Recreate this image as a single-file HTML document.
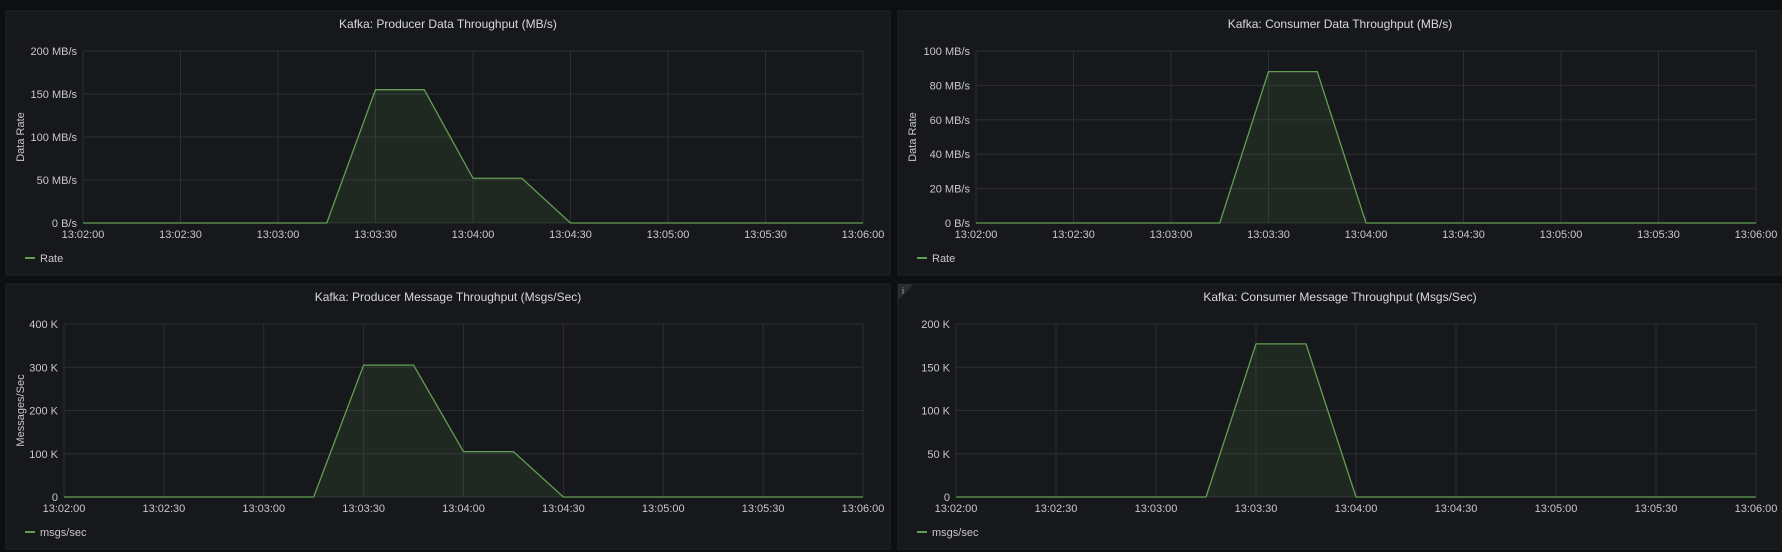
<!DOCTYPE html>
<html><head><meta charset="utf-8"><style>
body{margin:0;width:1782px;height:552px;background:#0e0f12;overflow:hidden;font-family:"Liberation Sans",sans-serif}
svg{position:absolute;left:0;top:0}
</style></head><body>
<svg id="s" width="1782" height="552"></svg>
<script>
const xTickLabels=["13:02:00","13:02:30","13:03:00","13:03:30","13:04:00","13:04:30","13:05:00","13:05:30","13:06:00"];
const prodDataTicks=["0 B/s","50 MB/s","100 MB/s","150 MB/s","200 MB/s"];
const consDataTicks=["0 B/s","20 MB/s","40 MB/s","60 MB/s","80 MB/s","100 MB/s"];
const prodMsgTicks=["0","100 K","200 K","300 K","400 K"];
const consMsgTicks=["0","50 K","100 K","150 K","200 K"];
// series as [seconds since 13:02:00, value]
const s1t=[0,75,90,105,120,135,150,240], s1v=[0,0,155,155,52,52,0,0];
const s2t=[0,75,90,105,120,240], s2v=[0,0,88,88,0,0];
const s3t=[0,75,90,105,120,135,150,240], s3v=[0,0,305,305,105,105,0,0];
const s4t=[0,75,90,105,120,240], s4v=[0,0,177,177,0,0];
const NS="http://www.w3.org/2000/svg",S=document.getElementById('s');
function el(t,a,p){const e=document.createElementNS(NS,t);for(const k in a)e.setAttribute(k,a[k]);(p||S).appendChild(e);return e;}
function panel(px,py,pw,ph,title,x0,x1,y0,y1,ticks,ymax,step,tv,vv,ytitle,legend,info){
 const g=el('g',{});
 
 
 el('rect',{x:px,y:py,width:pw,height:ph,fill:'#17181c',stroke:'#212328'},g);
 const t=el('text',{x:px+pw/2,y:py+17,fill:'#d8d9da','font-size':12,'text-anchor':'middle'},g);t.textContent=title;
 
 
 if(info){el('path',{d:`M${px} ${py}h16l-16 16z`,fill:'#2a2c31'},g);const i=el('text',{x:px+4,y:py+10,fill:'#aaa','font-size':9},g);i.textContent='i';}
 const X=s=>x0+(x1-x0)*s/240, Y=v=>y1-(y1-y0)*v/ymax;
 ticks.forEach((lb,i)=>{const v=i*step,y=Y(v);
  el('line',{x1:x0,x2:x1,y1:y,y2:y,stroke:'#2c2e33'},g);
  const tx=el('text',{x:x0-6,y:y+4,fill:'#c7c8ca','font-size':11,'text-anchor':'end'},g);tx.textContent=lb;
  
  });
 xTickLabels.forEach((lb,i)=>{const x=X(i*30);
  el('line',{x1:x,x2:x,y1:y0,y2:y1,stroke:'#2c2e33'},g);
  const tx=el('text',{x:x,y:y1+15,fill:'#c7c8ca','font-size':11,'text-anchor':'middle'},g);tx.textContent=lb;
  
  });
 let d=tv.map((s,i)=>(i?'L':'M')+X(s)+' '+Y(vv[i])).join('');
 const a=el('path',{d:d+`L${X(240)} ${Y(0)}L${X(0)} ${Y(0)}Z`,fill:'rgba(98,158,81,0.12)'},g);
 
 
 const l=el('path',{d:d,fill:'none',stroke:'#629e51','stroke-width':1.3},g);
 
 
 if(ytitle){const yt=el('text',{x:0,y:0,fill:'#c7c8ca','font-size':11,'text-anchor':'middle',transform:`translate(${px+18},${(y0+y1)/2}) rotate(-90)`},g);yt.textContent=ytitle;
  
  }
 el('line',{x1:px+19,x2:px+29,y1:y1+35,y2:y1+35,stroke:'#629e51','stroke-width':2},g);
 const lt=el('text',{x:px+34,y:y1+39,fill:'#c7c8ca','font-size':11},g);lt.textContent=legend;
 
 
}
panel(6,11,884,264,'Kafka: Producer Data Throughput (MB/s)',83,863,51,223,prodDataTicks,200,50,s1t,s1v,'Data Rate','Rate');
panel(898,11,884,264,'Kafka: Consumer Data Throughput (MB/s)',976,1756,51,223,consDataTicks,100,20,s2t,s2v,'Data Rate','Rate');
panel(6,284,884,265,'Kafka: Producer Message Throughput (Msgs/Sec)',64,863,324,497,prodMsgTicks,400,100,s3t,s3v,'Messages/Sec','msgs/sec');
panel(898,284,884,265,'Kafka: Consumer Message Throughput (Msgs/Sec)',956,1756,324,497,consMsgTicks,200,50,s4t,s4v,'','msgs/sec',true);
</script></body></html>
